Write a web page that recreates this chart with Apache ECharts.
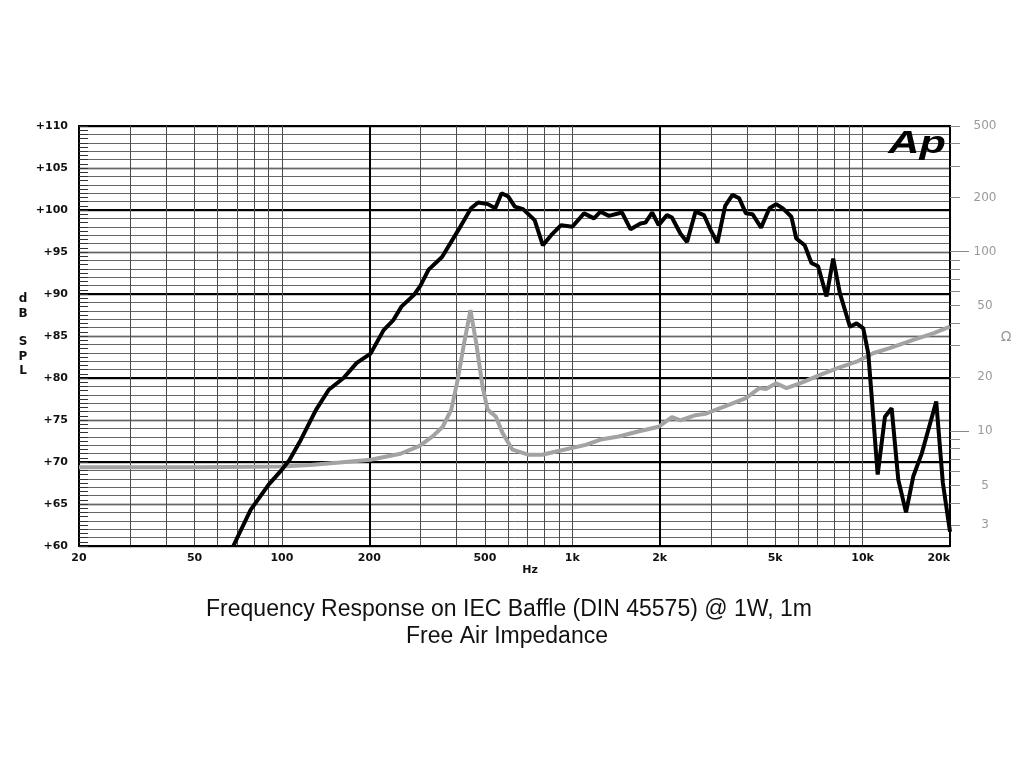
<!DOCTYPE html>
<html>
<head>
<meta charset="utf-8">
<script src="https://cdn.jsdelivr.net/npm/echarts@6/dist/echarts.min.js"></script>
<style>
html,body{margin:0;padding:0;background:#fff;}
#chart{width:1024px;height:768px;}
</style>
</head>
<body>
<div id="chart"></div>
<script>
// ---- Data ----
const splFreq = [68,78,90,100,106,116,131,145,163,181,202,224,242,258,285,300,320,356,405,448,474,512,543,571,602,634,677,742,792,846,915,1000,1098,1188,1251,1337,1483,1588,1718,1787,1884,1984,2119,2204,2357,2485,2657,2841,2998,3161,3363,3563,3758,3964,4179,4470,4777,5040,5313,5684,5910,6318,6664,7026,7512,7920,8350,9045,9536,10053,10462,10747,11270,11940,12590,13270,14110,14950,15980,17930,18900,20000];
const splValues = [60.0,64.3,67.3,69.1,70.2,72.6,76.2,78.6,80.0,81.8,82.9,85.7,86.9,88.5,89.9,91.0,92.9,94.4,97.6,100.2,100.9,100.7,100.2,102.0,101.6,100.4,100.1,98.8,95.8,97.0,98.2,98.0,99.6,99.0,99.8,99.3,99.7,97.7,98.4,98.5,99.7,98.2,99.4,99.1,97.2,96.2,99.8,99.4,97.6,96.1,100.5,101.8,101.4,99.6,99.5,97.9,100.2,100.7,100.2,99.2,96.6,95.8,93.7,93.3,89.7,94.2,90.1,86.1,86.5,85.9,82.9,77.8,68.5,75.4,76.4,67.9,64.0,68.3,71.0,77.2,67.5,61.7];

const impFreq = [20,52,100,125,158,202,256,298,331,358,383,403,424,446,467,491,511,545,575,622,710,788,904,1113,1252,1446,1699,1984,2204,2357,2657,2872,3563,3964,4409,4649,5040,5465,6083,7141,8150,9536,10870,12390,14950,17500,20000];
const impValues = [6.3,6.3,6.37,6.5,6.7,6.94,7.5,8.3,9.4,10.6,13.2,19.3,30.9,47.3,30.9,17.7,13.2,12.1,9.8,7.9,7.4,7.4,7.8,8.4,9.0,9.35,10.0,10.6,12.0,11.5,12.3,12.5,14.3,15.3,17.4,17.2,18.5,17.4,18.5,20.6,22.4,24.4,27.2,29.0,32.3,35.1,38.2];

// ---- Tick values ----
const xLabelValues = [20,50,100,200,500,1000,2000,5000,10000,20000];
const xMinorGrid = [30,40,50,60,70,80,90,100,300,400,500,600,700,800,900,1000,3000,4000,5000,6000,7000,8000,9000,10000];
const xMajorGrid = [200,2000];
const impLabelValues = [3,5,10,20,50,100,200,500];
const impTickValues = [3,4,5,6,7,8,9,10,20,30,40,50,60,70,80,90,100,200,300,400,500];
const impLongTicks = [10,100];

const chart = echarts.init(document.getElementById('chart'));

const hiddenX = (vals, color, width) => ({
  type: 'log', logBase: 10, min: 20, max: 20000, position: 'bottom',
  axisLine: {show: false}, axisLabel: {show: false},
  axisTick: {show: false, customValues: vals},
  splitLine: {show: true, lineStyle: {color: color, width: width}}
});
const hiddenY = (interval, color, width) => ({
  type: 'value', min: 60, max: 110, interval: interval, position: 'left',
  axisLine: {show: false}, axisLabel: {show: false}, axisTick: {show: false},
  splitLine: {show: true, lineStyle: {color: color, width: width}}
});

const option = {
  backgroundColor: '#fff',
  animation: false,
  grid: {left: 79, right: 74, top: 126, bottom: 222, show: true, borderColor: '#000', borderWidth: 2, containLabel: false},
  xAxis: [
    {
      type: 'log', logBase: 10, min: 20, max: 20000, position: 'bottom',
      axisLine: {show: true, lineStyle: {color: '#000', width: 2}},
      axisTick: {show: false, customValues: xLabelValues},
      axisLabel: {
        customValues: xLabelValues, margin: 7, alignMaxLabel: 'right',
        fontFamily: 'DejaVu Sans', fontWeight: 'bold', fontSize: 11, color: '#111',
        formatter: v => (v >= 1000 ? (v / 1000) + 'k' : String(v))
      },
      splitLine: {show: false}
    },
    hiddenX(xMinorGrid, '#4a4a4a', 1),
    hiddenX(xMajorGrid, '#000', 2)
  ],
  yAxis: [
    {
      type: 'value', min: 60, max: 110, interval: 5, position: 'left',
      axisLine: {show: true, lineStyle: {color: '#000', width: 2}},
      axisTick: {show: false},
      axisLabel: {formatter: '+{value}', margin: 11, fontFamily: 'DejaVu Sans', fontWeight: 'bold', fontSize: 11, color: '#111'},
      splitLine: {show: true, lineStyle: {color: '#1a1a1a', width: 1.3}}
    },
    hiddenY(1, '#666', 1),
    hiddenY(10, '#000', 2),
    {
      type: 'value', min: 60, max: 110, interval: 0.5, position: 'left',
      axisLine: {show: false}, axisLabel: {show: false},
      axisTick: {show: true, inside: true, length: 9, lineStyle: {color: '#333', width: 1}},
      splitLine: {show: false}
    },
    {
      type: 'log', logBase: 10, min: 2.3, max: 500, position: 'right',
      axisLine: {show: true, lineStyle: {color: '#000', width: 2}},
      axisTick: {show: true, length: 10, customValues: impTickValues, lineStyle: {color: '#888', width: 1}},
      axisLabel: {customValues: impLabelValues, margin: 35, align: 'center', fontFamily: 'DejaVu Sans', fontSize: 12, color: '#999'},
      splitLine: {show: false}
    },
    {
      type: 'log', logBase: 10, min: 2.3, max: 500, position: 'right',
      axisLine: {show: false}, axisLabel: {show: false},
      axisTick: {show: true, length: 19, customValues: impLongTicks, lineStyle: {color: '#888', width: 1}},
      splitLine: {show: false}
    }
  ],
  series: [
    {
      name: 'Free Air Impedance', type: 'line', xAxisIndex: 0, yAxisIndex: 4,
      data: impFreq.map((f, i) => [f, impValues[i]]),
      symbol: 'none', lineStyle: {color: '#a3a3a3', width: 4}, z: 3
    },
    {
      name: 'Frequency Response', type: 'line', xAxisIndex: 0, yAxisIndex: 0,
      data: splFreq.map((f, i) => [f, splValues[i]]),
      symbol: 'none', lineStyle: {color: '#000', width: 4}, z: 4
    }
  ],
  graphic: [
    {type: 'text', x: 23, y: 335, style: {text: 'd\nB\n\nS\nP\nL', font: 'bold 12px "DejaVu Sans"', fill: '#111', align: 'center', verticalAlign: 'middle', lineHeight: 14.3}},
    {type: 'text', x: 530, y: 570, style: {text: 'Hz', font: 'bold 11px "DejaVu Sans"', fill: '#111', align: 'center', verticalAlign: 'middle'}},
    {type: 'text', x: 1006, y: 337, style: {text: 'Ω', font: '14px "DejaVu Sans"', fill: '#999', align: 'center', verticalAlign: 'middle'}},
    {type: 'text', x: 917, y: 144, scaleX: 1.35, style: {text: 'Ap', font: 'italic bold 32px "Liberation Sans"', fill: '#000', align: 'center', verticalAlign: 'middle'}, z: 10},
    {type: 'text', x: 509, y: 610, style: {text: 'Frequency Response on IEC Baffle (DIN 45575) @ 1W, 1m', font: '23px "Liberation Sans"', fill: '#111', align: 'center', verticalAlign: 'middle'}},
    {type: 'text', x: 507, y: 637, style: {text: 'Free Air Impedance', font: '23px "Liberation Sans"', fill: '#111', align: 'center', verticalAlign: 'middle'}}
  ]
};
chart.setOption(option);
</script>
</body>
</html>
